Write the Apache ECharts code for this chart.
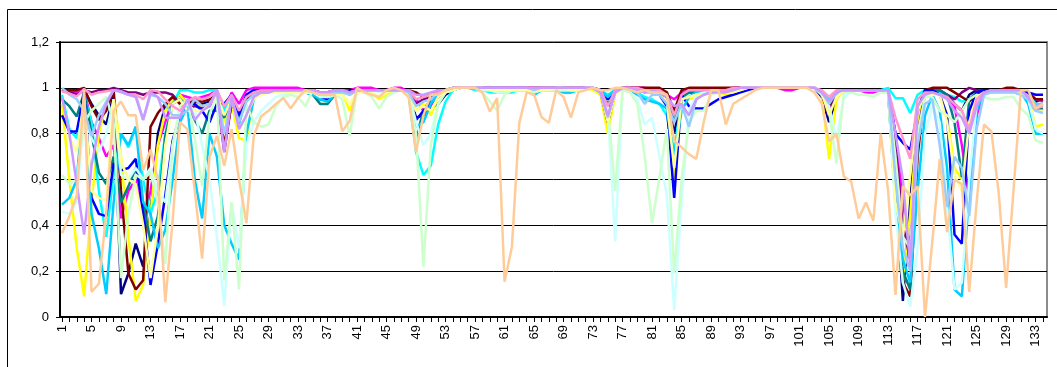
<!DOCTYPE html>
<html>
<head>
<meta charset="utf-8">
<title>chart</title>
<script src="https://cdn.jsdelivr.net/npm/echarts@6/dist/echarts.min.js"></script>
<style>
  html, body { margin: 0; padding: 0; background: #fff; }
  #chart { width: 1057px; height: 367px; }
</style>
</head>
<body>
<div id="chart"></div>
<script>
// x categories
var cats = [1,2,3,4,5,6,7,8,9,10,11,12,13,14,15,16,17,18,19,20,
  21,22,23,24,25,26,27,28,29,30,31,32,33,34,35,36,37,38,39,40,
  41,42,43,44,45,46,47,48,49,50,51,52,53,54,55,56,57,58,59,60,
  61,62,63,64,65,66,67,68,69,70,71,72,73,74,75,76,77,78,79,80,
  81,82,83,84,85,86,87,88,89,90,91,92,93,94,95,96,97,98,99,100,
  101,102,103,104,105,106,107,108,109,110,111,112,113,114,115,116,117,118,119,120,
  121,122,123,124,125,126,127,128,129,130,131,132,133,134];

var yTicks = [0, 0.2, 0.4, 0.6, 0.8, 1, 1.2];

// series values (one array per line)
var navy = [0.99,0.98,0.98,0.99,0.93,0.88,0.84,0.97,0.10,0.19,0.32,0.22,0.45,0.80,0.92,0.95,0.97,0.93,0.94,0.93,
  0.94,0.97,0.86,0.95,0.86,0.96,0.98,0.99,0.99,0.99,0.99,0.99,0.99,0.99,0.99,0.97,0.96,0.98,0.99,0.99,
  0.99,0.99,0.99,0.99,0.99,0.99,0.99,0.98,0.87,0.88,0.91,0.93,0.97,0.99,1,1,1,1,1,1,
  0.99,0.99,0.99,0.99,0.99,0.99,0.99,1,1,0.99,0.99,1,1,0.99,0.9,0.98,1,0.99,0.99,0.99,
  0.98,0.98,0.96,0.80,0.97,0.98,0.98,0.98,0.99,0.99,0.99,0.99,1,1,1,1,1,1,1,1,
  1,1,1,0.96,0.85,0.96,0.99,0.99,0.99,0.99,0.99,0.99,0.99,0.6,0.07,0.5,0.9,0.99,0.99,0.98,
  0.97,0.93,0.9,0.97,0.99,0.99,0.99,0.99,0.99,0.99,0.99,0.98,0.94,0.95];

var magenta = [0.99,0.99,0.98,0.99,0.85,0.78,0.70,0.75,0.43,0.55,0.60,0.42,0.55,0.75,0.85,0.95,0.97,0.96,0.95,0.96,
  0.97,0.99,0.90,0.98,0.93,0.99,1,1,1,1,1,1,1,0.99,0.99,0.98,0.98,0.99,0.99,0.99,
  1,1,1,0.99,0.99,1,1,0.98,0.95,0.90,0.92,0.98,0.99,1,1,1,1,1,1,1,
  1,1,1,1,0.99,1,1,1,1,1,1,1,1,0.99,0.95,0.99,1,1,1,1,
  0.99,0.98,0.97,0.95,0.98,0.99,0.99,0.99,0.99,0.99,0.99,1,1,1,1,1,1,1,0.99,0.99,
  1,1,1,0.98,0.90,0.98,0.99,0.99,0.99,0.98,0.98,0.99,0.99,0.8,0.5,0.3,0.85,0.99,0.99,0.98,
  0.96,0.92,0.75,0.52,0.88,0.98,0.99,0.99,0.99,0.99,0.99,0.98,0.95,0.94];

var yellow = [0.93,0.6,0.3,0.09,0.5,0.8,0.93,0.98,0.7,0.35,0.07,0.14,0.45,0.75,0.9,0.95,0.97,0.93,0.93,0.92,
  0.93,0.97,0.85,0.93,0.78,0.77,0.97,0.98,0.98,0.99,0.99,0.99,0.98,0.99,0.99,0.97,0.97,0.98,0.98,0.9,
  0.98,0.99,0.98,0.95,0.97,0.99,0.99,0.98,0.9,0.93,0.88,0.96,0.99,1,1,1,1,1,0.99,0.99,
  0.99,0.99,0.99,0.99,0.99,0.99,0.99,1,1,0.99,0.99,1,0.99,0.97,0.8,0.97,1,0.99,0.99,0.98,
  0.98,0.97,0.93,0.58,0.96,0.95,0.96,0.97,0.98,0.98,0.97,0.97,0.99,1,1,1,1,1,1,1,
  1,1,1,0.97,0.69,0.95,0.99,0.99,0.99,0.99,0.99,0.99,0.99,0.5,0.15,0.45,0.85,0.98,0.98,0.97,
  0.88,0.65,0.6,0.9,0.96,0.98,0.98,0.98,0.98,0.98,0.98,0.96,0.83,0.84];

var cyan = [0.97,0.82,0.78,0.97,0.85,0.55,0.35,0.62,0.80,0.74,0.83,0.60,0.45,0.55,0.80,0.93,0.99,0.99,0.98,0.98,
  0.99,0.99,0.90,0.96,0.84,0.97,0.99,0.99,0.99,0.99,0.99,0.99,0.99,0.98,0.97,0.95,0.94,0.97,0.98,0.99,
  0.99,0.99,0.99,0.99,0.99,0.99,0.99,0.97,0.72,0.62,0.66,0.84,0.94,0.99,1,1,0.99,0.99,0.98,0.98,
  0.98,0.98,0.99,0.99,0.97,0.99,0.99,0.99,0.98,0.98,0.99,1,1,0.99,0.97,0.99,1,0.99,0.98,0.96,
  0.95,0.93,0.88,0.72,0.95,0.98,0.99,0.99,0.99,0.99,0.99,0.99,1,1,1,1,1,1,1,1,
  1,1,1,0.98,0.95,0.97,0.99,0.99,0.99,0.99,0.99,0.99,1,0.955,0.955,0.89,0.97,0.99,0.99,0.98,
  0.97,0.96,0.94,0.95,0.97,0.99,0.99,0.99,0.99,0.99,0.99,0.98,0.93,0.93];

var purple = [0.99,0.98,0.97,0.99,0.98,0.99,0.99,1,0.99,0.98,0.98,0.97,0.98,0.98,0.98,0.97,0.93,0.91,0.92,0.91,
  0.92,0.97,0.72,0.94,0.85,0.96,0.98,0.99,0.99,0.99,0.99,0.99,0.99,0.99,0.99,0.98,0.98,0.99,0.99,0.98,
  0.99,0.99,0.99,0.99,0.99,0.99,0.99,0.99,0.93,0.95,0.96,0.98,0.99,1,1,1,1,1,1,1,
  1,1,1,1,1,1,1,1,1,1,1,1,1,0.98,0.85,0.98,1,1,1,0.99,
  0.99,0.99,0.98,0.88,0.97,0.99,0.99,0.99,0.99,0.99,0.99,1,1,1,1,1,1,1,1,1,
  1,1,1,0.97,0.88,0.97,0.99,0.99,0.99,0.99,0.99,0.99,0.99,0.75,0.4,0.25,0.8,0.98,0.99,0.99,
  0.97,0.95,0.98,1,0.99,0.99,0.99,0.99,0.99,0.99,0.99,0.98,0.95,0.95];

var maroon = [0.99,0.99,0.99,1,0.92,0.86,0.9,0.99,0.55,0.19,0.12,0.16,0.83,0.89,0.93,0.96,0.93,0.94,0.94,0.94,
  0.95,0.97,0.75,0.93,0.88,0.95,0.98,0.99,0.99,0.99,0.99,0.99,0.99,0.99,0.99,0.98,0.98,0.99,0.99,0.97,
  0.99,0.99,0.99,0.99,0.99,0.99,0.99,0.99,0.98,0.96,0.97,0.99,0.99,1,1,1,1,1,1,1,
  1,1,1,1,1,1,1,1,1,1,1,1,1,0.99,0.85,0.98,1,1,1,1,
  1,1,0.98,0.9,0.99,1,1,1,1,1,1,1,1,1,1,1,1,1,1,1,
  1,1,1,0.97,0.92,0.98,0.99,0.99,0.99,0.99,0.99,0.99,0.99,0.55,0.15,0.09,0.7,0.99,1,1,
  1,0.98,0.96,0.94,0.97,0.99,0.99,0.99,1,1,0.99,0.98,0.95,0.95];

var teal = [0.95,0.92,0.875,0.98,0.8,0.63,0.58,0.7,0.5,0.57,0.65,0.5,0.33,0.44,0.79,0.93,0.95,0.92,0.86,0.8,
  0.9,0.9,0.87,0.95,0.87,0.96,0.98,0.99,0.99,0.99,0.99,0.99,0.99,0.98,0.97,0.93,0.93,0.97,0.98,0.98,
  0.99,0.99,0.99,0.99,0.99,0.99,0.99,0.97,0.78,0.9,0.95,0.98,0.99,1,1,1,1,1,1,1,
  0.99,0.99,0.99,0.99,0.99,0.99,0.99,1,1,0.99,0.99,1,1,0.99,0.93,0.98,1,0.99,0.99,0.99,
  0.99,0.98,0.96,0.85,0.96,0.98,0.98,0.98,0.99,0.99,0.99,0.99,1,1,1,1,1,1,1,1,
  1,1,1,0.98,0.93,0.98,0.99,0.99,0.99,0.99,0.99,0.99,0.98,0.5,0.2,0.12,0.75,0.98,0.99,0.99,
  0.97,0.85,0.61,0.95,0.98,0.99,0.99,0.99,0.99,0.99,0.98,0.95,0.9,0.91];

var blue = [0.88,0.81,0.81,0.98,0.52,0.45,0.44,0.67,0.64,0.65,0.69,0.45,0.14,0.32,0.53,0.77,0.88,0.93,0.93,0.9,
  0.85,0.93,0.93,0.97,0.88,0.97,0.99,0.99,0.99,0.99,0.99,0.99,0.99,0.99,0.98,0.95,0.95,0.97,0.98,0.99,
  0.99,0.99,0.99,0.99,0.99,0.99,0.99,0.97,0.86,0.9,0.93,0.96,0.98,0.99,1,1,1,1,1,1,
  1,1,1,1,0.99,0.99,1,1,0.99,0.99,1,1,1,0.99,0.95,0.99,1,0.99,0.99,0.98,
  0.98,0.97,0.92,0.52,0.97,0.92,0.91,0.91,0.93,0.95,0.96,0.97,0.98,0.99,1,1,1,1,1,1,
  1,1,1,0.98,0.93,0.98,0.99,0.99,0.99,0.99,0.99,0.99,0.99,0.8,0.76,0.73,0.9,0.99,0.99,0.97,
  0.88,0.36,0.32,0.9,0.98,0.99,0.99,0.99,0.99,0.99,0.99,0.98,0.97,0.97];

var skyBlue = [0.49,0.52,0.6,0.97,0.45,0.3,0.1,0.5,0.8,0.75,0.83,0.5,0.45,0.3,0.38,0.6,0.85,0.92,0.6,0.43,
  0.8,0.7,0.4,0.32,0.25,0.8,0.95,0.98,0.98,0.99,0.99,0.99,0.98,0.98,0.97,0.95,0.94,0.97,0.98,0.98,
  0.99,0.99,0.99,0.99,0.99,0.99,0.99,0.97,0.83,0.85,0.93,0.97,0.99,1,1,1,1,1,0.99,0.99,
  0.99,0.99,0.99,0.99,0.97,0.99,0.99,0.99,0.98,0.98,0.99,1,1,0.99,0.96,0.99,1,0.99,0.97,0.95,
  0.94,0.93,0.91,0.7,0.9,0.96,0.98,0.98,0.99,0.99,0.99,0.99,1,1,1,1,1,1,1,1,
  1,1,1,0.98,0.94,0.97,0.99,0.99,0.99,0.99,0.99,0.99,0.98,0.5,0.25,0.15,0.55,0.88,0.97,0.9,
  0.65,0.12,0.09,0.55,0.9,0.98,0.98,0.98,0.98,0.98,0.98,0.93,0.8,0.8];

var turquoise = [0.46,0.45,0.5,0.9,0.78,0.72,0.8,0.95,0.62,0.6,0.65,0.6,0.65,0.55,0.5,0.75,0.9,0.93,0.9,0.75,
  0.6,0.35,0.05,0.5,0.3,0.75,0.85,0.9,0.93,0.96,0.97,0.98,0.98,0.98,0.98,0.96,0.96,0.97,0.98,0.97,
  0.99,0.99,0.99,0.98,0.99,0.99,0.99,0.98,0.85,0.75,0.8,0.93,0.98,0.99,1,1,1,0.99,0.99,0.98,
  0.98,0.99,0.99,0.99,0.98,0.99,0.99,0.99,0.99,0.99,0.99,1,1,0.98,0.9,0.33,0.99,0.98,0.95,0.84,
  0.87,0.7,0.53,0.03,0.5,0.9,0.97,0.98,0.99,0.99,0.99,0.99,1,1,1,1,1,1,1,1,
  1,1,1,0.97,0.92,0.78,0.95,0.99,0.99,0.99,0.99,0.99,0.98,0.45,0.15,0.045,0.3,0.8,0.92,0.85,
  0.47,0.12,0.15,0.6,0.93,0.98,0.98,0.98,0.98,0.98,0.97,0.95,0.82,0.8];

var lightGreen = [0.62,0.58,0.6,0.85,0.9,0.93,0.96,0.85,0.17,0.45,0.62,0.6,0.63,0.5,0.23,0.75,0.92,0.95,0.78,0.57,
  0.88,0.98,0.16,0.5,0.12,0.93,0.85,0.83,0.84,0.92,0.96,0.97,0.96,0.92,0.99,0.97,0.96,0.97,0.95,0.79,
  0.99,0.98,0.96,0.91,0.96,0.98,0.99,0.97,0.8,0.22,0.75,0.93,0.98,0.99,1,1,1,0.98,0.94,0.9,
  0.97,0.99,0.99,0.99,0.98,0.99,0.99,0.99,0.99,0.99,0.99,1,1,0.98,0.92,0.55,0.99,0.98,0.93,0.7,
  0.41,0.61,0.82,0.19,0.6,0.85,0.9,0.9,0.97,0.98,0.98,0.99,1,1,1,1,1,1,1,1,
  1,1,1,0.97,0.9,0.67,0.98,0.98,0.97,0.97,0.96,0.98,0.98,0.7,0.35,0.3,0.8,0.96,0.96,0.9,
  0.88,0.85,0.9,0.95,0.97,0.96,0.95,0.95,0.96,0.96,0.91,0.88,0.77,0.76];

var lightYellow = [0.82,0.78,0.72,0.95,0.55,0.52,0.51,0.95,0.68,0.6,0.58,0.4,0.17,0.4,0.75,0.93,0.95,0.9,0.9,0.9,
  0.93,0.97,0.88,0.95,0.82,0.88,0.95,0.97,0.98,0.98,0.98,0.98,0.98,0.98,0.98,0.97,0.97,0.97,0.97,0.93,
  0.98,0.98,0.98,0.96,0.98,0.99,0.99,0.98,0.9,0.92,0.9,0.96,0.98,0.99,1,1,1,1,0.99,0.99,
  0.99,0.99,0.99,0.99,0.99,0.99,0.99,1,1,0.99,0.99,1,1,0.98,0.85,0.97,1,0.99,0.99,0.98,
  0.98,0.97,0.94,0.65,0.95,0.96,0.97,0.97,0.98,0.98,0.98,0.98,0.99,1,1,1,1,1,1,1,
  1,1,1,0.98,0.88,0.96,0.99,0.99,0.99,0.99,0.99,0.99,0.99,0.5,0.35,0.62,0.9,0.97,0.97,0.97,
  0.85,0.62,0.55,0.85,0.96,0.98,0.98,0.98,0.98,0.98,0.98,0.96,0.9,0.9];

var paleBlue = [1,0.97,0.95,0.9,0.79,0.88,0.94,0.99,0.98,0.97,0.97,0.86,0.97,0.96,0.93,0.88,0.88,0.9,0.95,0.92,
  0.93,0.98,0.8,0.95,0.85,0.94,0.97,0.98,0.98,0.99,0.99,0.99,0.99,0.99,0.98,0.97,0.97,0.98,0.98,0.97,
  0.99,0.99,0.99,0.99,0.99,0.99,0.99,0.98,0.92,0.94,0.95,0.98,0.99,1,1,1,1,1,1,1,
  1,1,1,1,0.99,1,1,1,1,1,1,1,1,0.98,0.87,0.98,1,0.99,0.98,0.93,
  0.97,0.97,0.93,0.85,0.93,0.83,0.95,0.97,0.98,0.99,0.99,0.99,1,1,1,1,1,1,1,1,
  1,1,1,0.98,0.93,0.98,0.99,0.99,0.99,0.99,0.99,0.99,0.99,0.6,0.3,0.2,0.75,0.93,0.95,0.75,
  0.48,0.7,0.65,0.44,0.82,0.97,0.98,0.98,0.98,0.98,0.97,0.95,0.9,0.89];

var rose = [0.985,0.975,0.963,0.995,0.97,0.98,0.985,0.99,0.985,0.97,0.97,0.95,0.99,0.985,0.95,0.92,0.9,0.94,0.96,0.95,
  0.96,0.99,0.92,0.97,0.9,0.96,0.98,0.99,0.99,0.99,0.99,0.99,0.99,0.99,0.99,0.98,0.98,0.99,0.99,0.98,
  0.99,0.99,0.99,0.99,0.99,0.99,0.99,0.99,0.95,0.96,0.97,0.98,0.99,1,1,1,1,1,1,1,
  1,1,1,1,1,1,1,1,1,1,1,1,1,0.99,0.92,0.99,1,1,1,0.99,
  0.99,0.99,0.97,0.88,0.97,0.99,0.99,0.99,0.99,0.99,0.99,1,1,1,1,1,1,1,1,1,
  1,1,1,0.99,0.96,0.99,0.99,0.99,0.99,0.99,0.99,0.99,0.99,0.87,0.78,0.69,0.95,0.98,0.98,0.97,
  0.96,0.93,0.9,0.82,0.95,0.98,0.99,0.99,0.99,0.99,0.99,0.96,0.91,0.92];

var lavender = [0.96,0.8,0.58,0.36,0.66,0.83,0.93,0.99,0.985,0.97,0.96,0.86,0.98,0.96,0.87,0.87,0.87,0.95,0.86,0.9,
  0.92,0.99,0.72,0.96,0.82,0.88,0.96,0.98,0.98,0.99,0.99,0.99,0.99,0.99,0.99,0.98,0.98,0.99,0.99,0.98,
  0.99,0.99,0.99,0.99,0.99,0.99,0.99,0.99,0.97,0.97,0.98,0.99,0.99,1,1,1,1,1,1,1,
  1,1,1,1,1,1,1,1,1,1,1,1,1,0.98,0.88,0.98,1,1,0.99,0.98,
  0.99,0.98,0.96,0.92,0.93,0.88,0.95,0.97,0.98,0.98,0.98,0.99,1,1,1,1,1,1,1,1,
  1,1,1,0.98,0.94,0.98,0.99,0.99,0.99,0.99,0.99,0.99,0.99,0.8,0.6,0.22,0.92,0.97,0.98,0.97,
  0.95,0.9,0.87,0.8,0.92,0.98,0.99,0.99,0.99,0.99,0.99,0.96,0.92,0.93];

var tan = [0.365,0.44,0.53,0.99,0.11,0.145,0.45,0.9,0.94,0.88,0.88,0.64,0.73,0.6,0.065,0.42,0.85,0.82,0.55,0.255,
  0.7,0.79,0.66,0.82,0.6,0.41,0.79,0.876,0.9,0.93,0.956,0.91,0.956,0.99,0.98,0.97,0.97,0.97,0.81,0.855,
  1,0.98,0.97,0.96,0.99,1,0.99,0.96,0.72,0.88,0.97,0.97,0.99,1,1,1,1,0.98,0.896,0.955,
  0.154,0.307,0.847,0.98,0.97,0.873,0.847,0.99,0.96,0.87,0.98,0.99,1,0.99,0.99,1,1,0.99,0.98,0.99,
  0.98,0.98,0.97,0.77,0.74,0.71,0.69,0.85,0.99,0.99,0.84,0.93,0.95,0.97,0.99,1,1,1,1,1,
  1,1,0.98,0.93,0.766,0.8,0.613,0.59,0.43,0.5,0.42,0.8,0.55,0.096,0.57,0.53,0.57,0,0.33,0.69,
  0.37,0.6,0.58,0.11,0.5,0.84,0.81,0.54,0.127,0.55,0.99,0.99,0.91,0.93];

var seriesData = [navy, magenta, yellow, cyan, purple, maroon, teal, blue,
  skyBlue, turquoise, lightGreen, lightYellow, paleBlue, rose, lavender, tan];
var seriesColors = ['#000080', '#FF00FF', '#FFFF00', '#00FFFF', '#800080', '#800000', '#008080', '#0000FF',
  '#00CCFF', '#CCFFFF', '#CCFFCC', '#FFFF99', '#99CCFF', '#FF99CC', '#CC99FF', '#FFCC99'];

var chart = echarts.init(document.getElementById('chart'), null, { renderer: 'canvas' });

var series = [];
for (var i = 0; i < seriesData.length; i++) {
    series.push({
        type: 'line',
        xAxisIndex: 0,
        yAxisIndex: 0,
        data: seriesData[i],
        symbol: 'none',
        lineStyle: { color: seriesColors[i], width: 2.5 },
        itemStyle: { color: seriesColors[i] },
        z: 3
    });
}

function fmt(v) {
    return String(Math.round(v * 10) / 10).replace('.', ',');
}

var option = {
    animation: false,
    backgroundColor: '#fff',
    textStyle: { fontFamily: 'Liberation Sans, Arial, sans-serif' },
    grid: [
        // data grid (first/last category sit just inside the frame)
        { left: 62, right: 14, top: 42, height: 275, show: false },
        // frame grid
        { left: 60, right: 10, top: 42, height: 275, show: true, borderColor: '#8c8c8c', borderWidth: 2, backgroundColor: 'transparent', z: 0 }
    ],
    xAxis: [
        {
            type: 'category', gridIndex: 0, data: cats, boundaryGap: false,
            axisLine: { show: false },
            axisTick: { show: true, interval: 0, length: 5, lineStyle: { color: '#000' } },
            axisLabel: { interval: 3, rotate: 90, margin: 8, color: '#000', fontSize: 13, fontFamily: 'Liberation Sans, Arial' },
            splitLine: { show: false }
        },
        {
            type: 'value', gridIndex: 1, min: 0, max: 1,
            axisLine: { show: true, onZero: false, lineStyle: { color: '#000', width: 2 } },
            axisTick: { show: false }, axisLabel: { show: false }, splitLine: { show: false }
        }
    ],
    yAxis: [
        { type: 'value', gridIndex: 0, min: 0, max: 1.2, show: false },
        {
            type: 'value', gridIndex: 1, min: yTicks[0], max: yTicks[yTicks.length - 1], interval: 0.2,
            axisLine: { show: true, lineStyle: { color: '#000', width: 2 } },
            axisTick: { show: true, length: 4, lineStyle: { color: '#000' } },
            axisLabel: { color: '#000', fontSize: 13, margin: 11, fontFamily: 'Liberation Sans, Arial', formatter: fmt },
            splitLine: { show: true, lineStyle: { color: '#000', width: 1 } }
        }
    ],
    graphic: [
        { type: 'rect', silent: true, z: -1, shape: { x: 7.5, y: 9.5, width: 1100, height: 400 }, style: { fill: null, stroke: '#000', lineWidth: 1 } }
    ],
    series: series
};

chart.setOption(option);
</script>
</body>
</html>
